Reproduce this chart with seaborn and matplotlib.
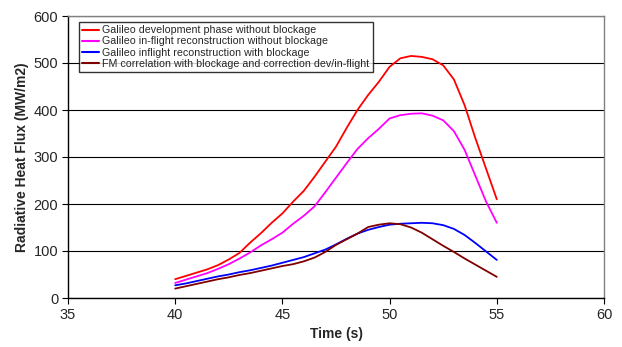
import numpy as np
import pandas as pd
import matplotlib
matplotlib.use("Agg")
import matplotlib.pyplot as plt
import seaborn as sns

time_s = [40, 40.5, 41, 41.5, 42, 42.5, 43, 43.5, 44, 44.5, 45, 45.5, 46, 46.5, 47, 47.5,
          48, 48.5, 49, 49.5, 50, 50.5, 51, 51.5, 52, 52.5, 53, 53.5, 54, 54.5, 55]

dev_no_block = [40, 47, 54, 61, 70, 82, 96, 118, 138, 160, 180, 205, 228, 258, 290, 322,
                362, 400, 432, 460, 492, 510, 515, 513, 508, 495, 465, 410, 340, 275, 210]
inflight_no_block = [32, 39, 46, 53, 62, 72, 84, 97, 112, 125, 139, 158, 175, 195, 225, 256,
                     287, 317, 340, 360, 382, 389, 392, 393, 388, 378, 355, 315, 260, 205, 160]
inflight_block = [27, 31, 36, 41, 46, 50, 55, 59, 64, 69, 75, 81, 87, 95, 103, 114,
                  126, 137, 145, 151, 156, 158, 159, 160, 159, 155, 147, 134, 117, 99, 81]
fm_corr = [20, 25, 30, 35, 40, 44, 49, 53, 58, 63, 68, 72, 78, 86, 98, 113,
           125, 137, 151, 156, 159, 157, 150, 139, 125, 111, 98, 84, 71, 58, 45]

series_names = [
    "Galileo development phase without blockage",
    "Galileo in-flight reconstruction without blockage",
    "Galileo inflight reconstruction with blockage",
    "FM correlation with blockage and correction dev/in-flight",
]
colors = ["#FF0000", "#FF00FF", "#0000FF", "#800000"]

x_ticks = [35, 40, 45, 50, 55, 60]
y_ticks = [0, 100, 200, 300, 400, 500, 600]

frames = []
for name, vals in zip(series_names, [dev_no_block, inflight_no_block, inflight_block, fm_corr]):
    frames.append(pd.DataFrame({"Time": time_s, "Flux": vals, "Series": name}))
df = pd.concat(frames, ignore_index=True)

sns.set_theme(style="white")
plt.rcParams["font.family"] = ["Liberation Sans", "DejaVu Sans"]

fig = plt.figure(figsize=(6.22, 3.47), dpi=100)
ax = fig.add_axes([68 / 622, 1 - 298 / 347, (604 - 68) / 622, (298 - 16) / 347])

sns.lineplot(data=df, x="Time", y="Flux", hue="Series", hue_order=series_names,
             palette=colors, sort=False, linewidth=1.3, ax=ax, legend=True)

ax.set_xlim(35, 60)
ax.set_ylim(0, 600)
ax.set_xticks(x_ticks)
ax.set_yticks(y_ticks)
ax.set_xticklabels([str(t) for t in x_ticks], fontsize=10.5)
ax.set_yticklabels([str(t) for t in y_ticks], fontsize=10.5)
ax.tick_params(axis="both", direction="out", length=4, width=0.8, color="black",
               bottom=True, left=True, pad=3)
ax.yaxis.grid(True, color="black", linewidth=0.8)
ax.set_axisbelow(True)

for side in ["left", "bottom"]:
    ax.spines[side].set_color("black")
    ax.spines[side].set_linewidth(1.0)
for side in ["top", "right"]:
    ax.spines[side].set_color("#808080")
    ax.spines[side].set_linewidth(1.0)

ax.set_xlabel("Time (s)", fontsize=10, fontweight="bold", labelpad=4)
ax.set_ylabel("Radiative Heat Flux (MW/m2)", fontsize=10, fontweight="bold", labelpad=3)

handles, labels = ax.get_legend_handles_labels()
leg = ax.legend(handles, labels, loc="upper left", bbox_to_anchor=(0.02, 0.978),
                borderaxespad=0, fontsize=7.7, frameon=True, fancybox=False,
                handlelength=1.6, handletextpad=0.3, labelspacing=0.1,
                borderpad=0.3)
leg.get_frame().set_edgecolor("black")
leg.get_frame().set_linewidth(1.0)
for line in leg.get_lines():
    line.set_linewidth(1.5)

fig.savefig("out.png", dpi=100)
